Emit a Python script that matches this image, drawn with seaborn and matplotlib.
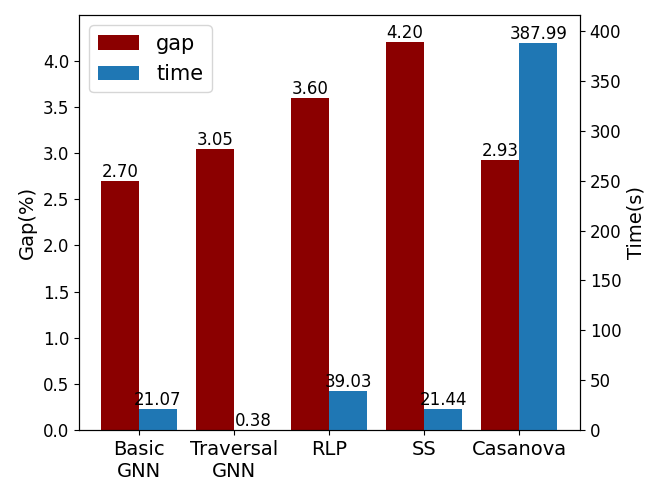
import pandas as pd
import numpy as np
import seaborn as sns
import matplotlib.pyplot as plt
from matplotlib.patches import Patch

methods = ['Basic\nGNN', 'Traversal\nGNN', 'RLP', 'SS', 'Casanova']
gap = [2.70, 3.05, 3.60, 4.20, 2.93]
time = [21.07, 0.38, 39.03, 21.44, 387.99]

gap_color = '#8b0000'
time_color = '#1f77b4'

df_gap = pd.DataFrame({'method': methods, 'value': gap, 'metric': 'gap'})
df_time = pd.DataFrame({'method': methods, 'value': time, 'metric': 'time'})
palette = {'gap': gap_color, 'time': time_color}

fig = plt.figure(figsize=(6.64, 4.98), dpi=100)
ax1 = fig.add_axes([0.119, 0.1365, 0.7545, 0.8335])
ax2 = ax1.twinx()

# dodge=True with both hue levels keeps gap on the left and time on the right
sns.barplot(data=df_gap, x='method', y='value', hue='metric', hue_order=['gap', 'time'],
            order=methods, palette=palette, saturation=1, errorbar=None, width=0.8,
            dodge=True, edgecolor='none', linewidth=0, legend=False, ax=ax1)
sns.barplot(data=df_time, x='method', y='value', hue='metric', hue_order=['gap', 'time'],
            order=methods, palette=palette, saturation=1, errorbar=None, width=0.8,
            dodge=True, edgecolor='none', linewidth=0, legend=False, ax=ax2)

for c in ax1.containers:
    ax1.bar_label(c, fmt='%.2f', fontsize=12, padding=0)
for c in ax2.containers:
    ax2.bar_label(c, fmt='%.2f', fontsize=12, padding=0)

ax1.set_xlim(-0.63, 4.64)
ax1.set_ylim(0, max(gap) * 1.071)
ax2.set_ylim(0, max(time) * 1.073)
ax1.set_yticks(np.arange(0, 4.01, 0.5))
ax2.set_yticks(np.arange(0, 401, 50))

ax1.set_xlabel('')
ax1.set_ylabel('Gap(%)', fontsize=14)
ax2.set_ylabel('Time(s)', fontsize=14)
ax1.tick_params(axis='x', labelsize=14)
ax1.tick_params(axis='y', labelsize=12)
ax2.tick_params(axis='y', labelsize=12)

handles = [Patch(facecolor=gap_color, label='gap'),
           Patch(facecolor=time_color, label='time')]
ax1.legend(handles=handles, loc='upper left', fontsize=15)

fig.savefig('out.png', dpi=100)
